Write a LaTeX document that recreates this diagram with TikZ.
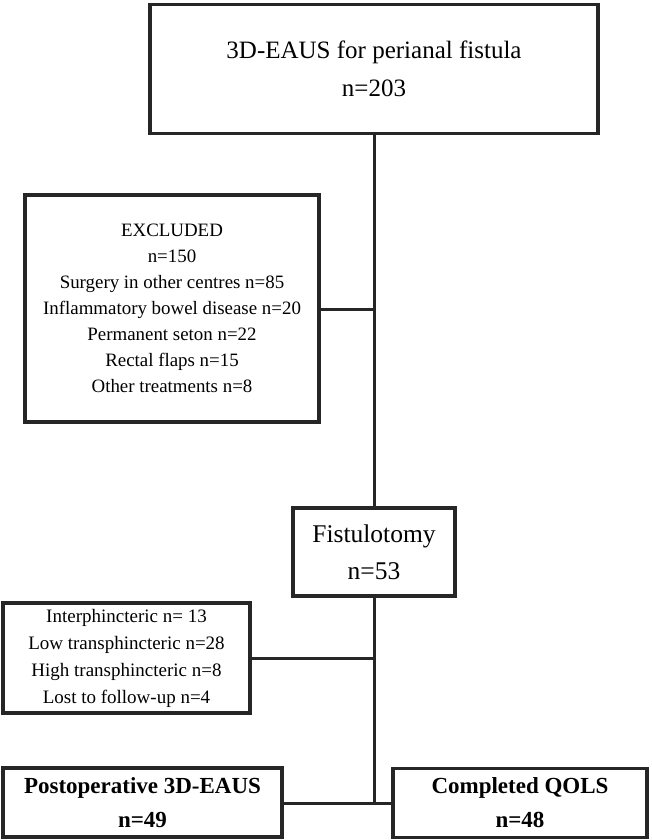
\documentclass[tikz,border=0pt]{standalone}
\usepackage{fontspec}
\setmainfont{Liberation Serif}
\begin{document}
\begin{tikzpicture}[x=1pt,y=-1pt,
  box/.style={draw=black!85,line width=3.2pt,inner sep=0pt,align=center},
  conn/.style={draw=black!85,line width=3pt}]
\useasboundingbox (0,0) rectangle (651,840);
\node[box,minimum width=448,minimum height=129,font=\fontsize{25}{38}\selectfont] (top) at (374,69)
  {3D-EAUS for perianal fistula\\n=203};
\node[box,minimum width=294,minimum height=227,font=\fontsize{18.9}{26}\selectfont] (excl) at (172,308.5)
  {EXCLUDED\\n=150\\Surgery in other centres n=85\\Inflammatory bowel disease n=20\\Permanent seton n=22\\Rectal flaps n=15\\Other treatments n=8};
\node[box,minimum width=162,minimum height=88,font=\fontsize{25.5}{37}\selectfont] (fist) at (374,552)
  {Fistulotomy\\n=53};
\node[box,minimum width=247,minimum height=110,font=\fontsize{19}{27}\selectfont] (sub) at (126.5,658)
  {Interphincteric n= 13\\Low transphincteric n=28\\High transphincteric n=8\\Lost to follow-up n=4};
\node[box,minimum width=279,minimum height=69,font=\bfseries\fontsize{23}{34}\selectfont] (post) at (142.5,802.5)
  {Postoperative 3D-EAUS\\n=49};
\node[box,minimum width=254,minimum height=69,font=\bfseries\fontsize{23}{34}\selectfont] (qols) at (520,803)
  {Completed QOLS\\n=48};
\coordinate (j1) at (374,309);
\coordinate (j2) at (374,658);
\coordinate (j3) at (374,803);
\draw[conn] (top.south) -- (fist.north);
\draw[conn] (excl.east |- j1) -- (j1);
\draw[conn] (fist.south) -- (j3);
\draw[conn] (sub.east |- j2) -- (j2);
\draw[conn] (post.east |- j3) -- (qols.west |- j3);
\end{tikzpicture}
\end{document}
